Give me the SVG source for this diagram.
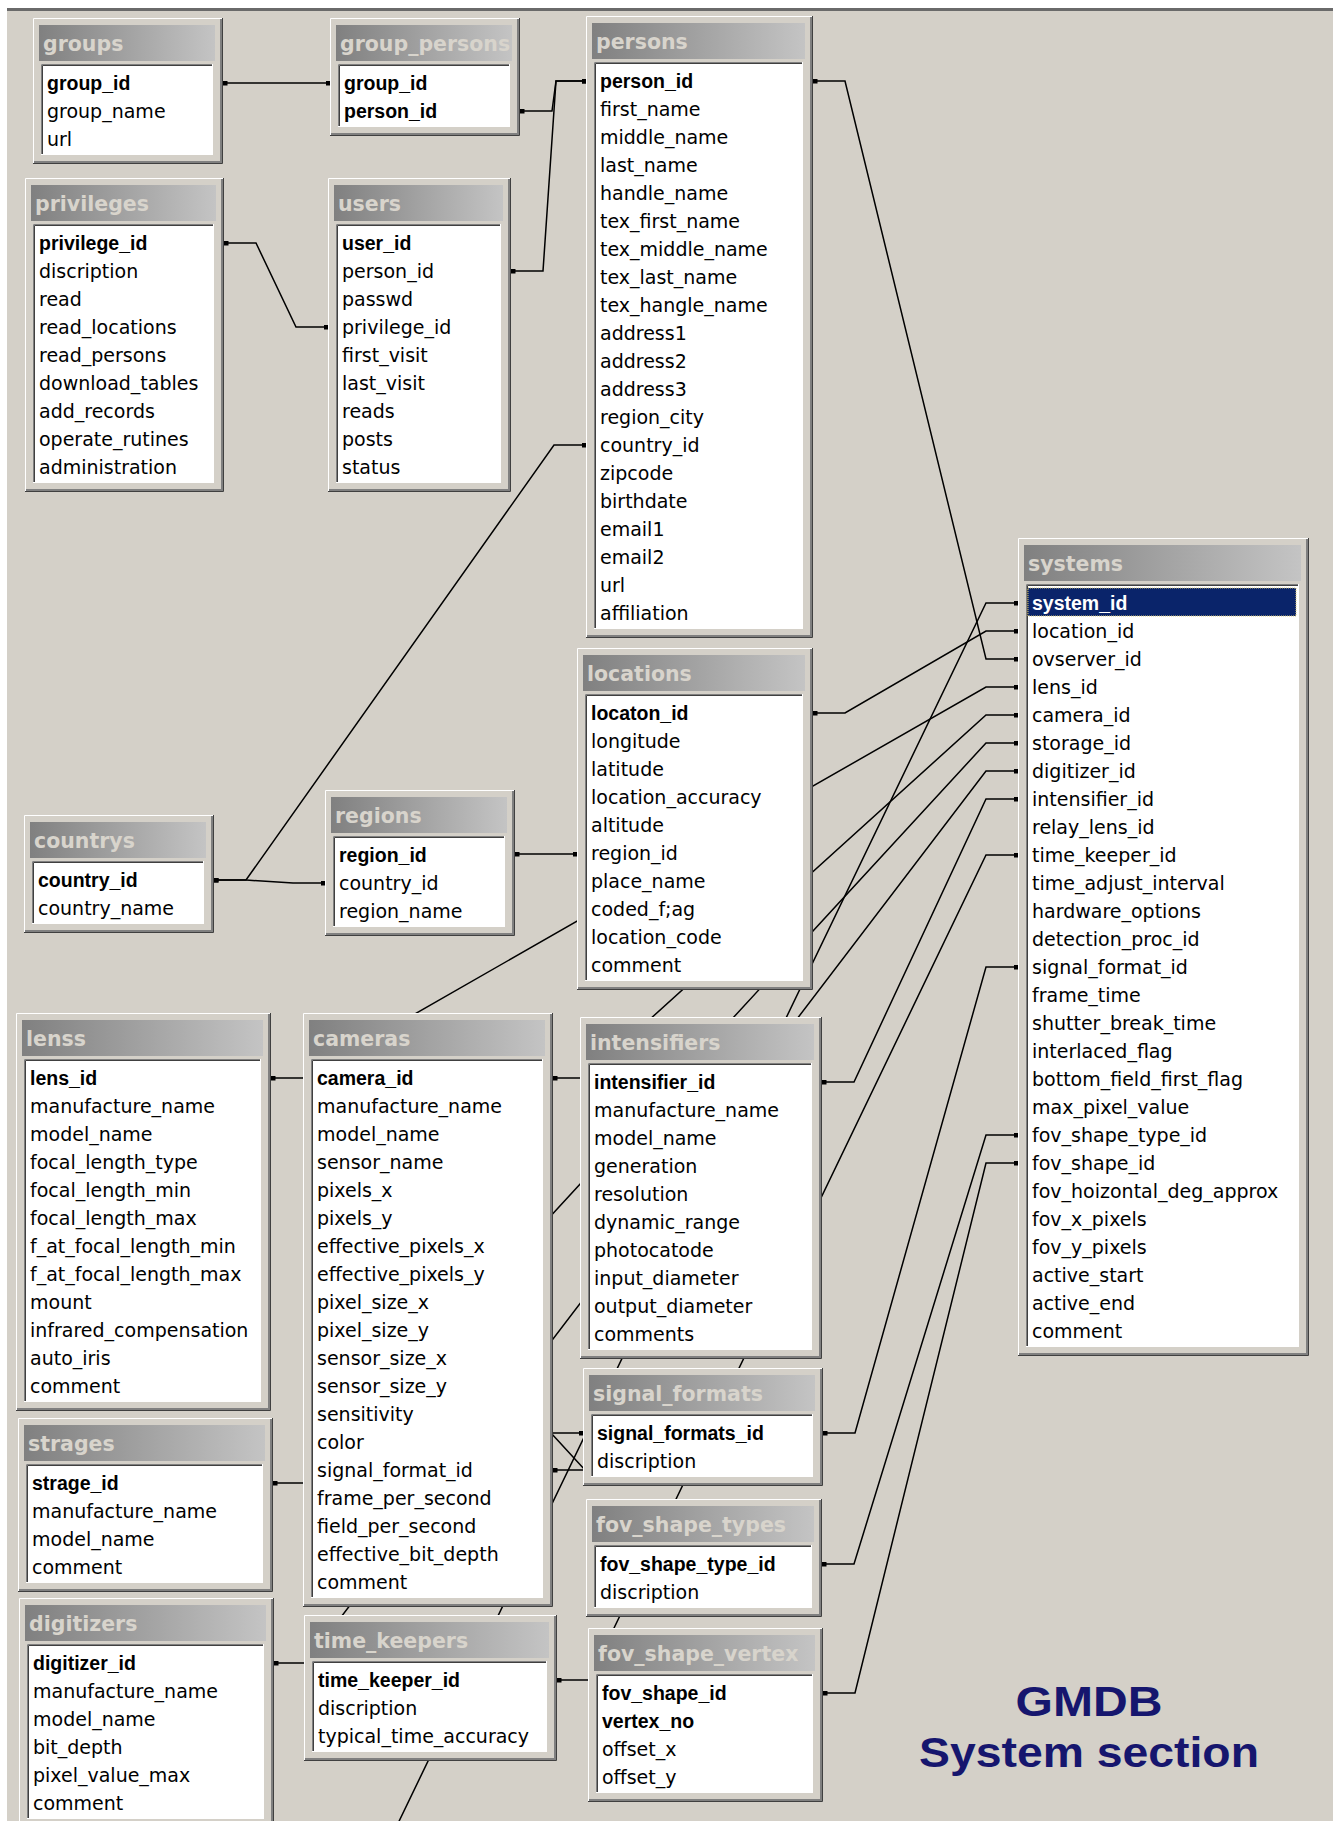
<svg xmlns="http://www.w3.org/2000/svg" width="1333" height="1821" viewBox="0 0 1333 1821">
<defs>
<linearGradient id="tg" x1="0" y1="0" x2="1" y2="0"><stop offset="0" stop-color="#808080"/><stop offset="1" stop-color="#c4c4c4"/></linearGradient>
<marker id="dot" viewBox="0 0 5 5" refX="2.5" refY="2.5" markerWidth="5" markerHeight="5" markerUnits="userSpaceOnUse"><rect width="5" height="5" fill="#000"/></marker>
<style>
.fr{fill:#d4d0c8}
.hi{fill:none;stroke:#fff;stroke-width:1}
.s1{fill:none;stroke:#404040;stroke-width:1}
.s2{fill:none;stroke:#808080;stroke-width:2}
.tb{fill:url(#tg)}
.tt{font-family:"DejaVu Sans",sans-serif;font-weight:bold;font-size:20.5px;fill:#d8d4cc}
.ls{fill:#fff}
.l1{fill:none;stroke:#808080;stroke-width:1}
.l2{fill:none;stroke:#404040;stroke-width:1}
.l3{fill:none;stroke:#ffffff;stroke-width:1}
.f{font-family:"DejaVu Sans",sans-serif;font-size:19px;fill:#000}
.k{font-family:"Liberation Sans",Arial,sans-serif;font-weight:bold;font-size:19.5px;fill:#000}
.conn path{fill:none;stroke:#000;stroke-width:1.5}
</style>
</defs>
<rect width="1333" height="1821" fill="#fff"/>
<rect x="7" y="9" width="1326" height="1812" fill="#d4d0c8"/>
<path d="M7,9.5H1333" stroke="#6a6a6a" stroke-width="3"/>

<g id="connectors" class="conn" marker-start="url(#dot)" marker-end="url(#dot)">
<path d="M225,83H328"/>
<path d="M522,111H552L556,81H584"/>
<path d="M513,271H543L556,81H584"/>
<path d="M226,243H256L296,327H326"/>
<path d="M216,880H246L293,883H323"/>
<path d="M216,880H246L554,445H584"/>
<path d="M517,854H575"/>
<path d="M815,81H845L986,659H1016"/>
<path d="M815,713H845L986,631H1016"/>
<path d="M273,1078H303L986,687H1016"/>
<path d="M555,1078H585L986,715H1016"/>
<path d="M275,1483H305L986,743H1016"/>
<path d="M276,1663H306L986,771H1016"/>
<path d="M824,1082H854L986,799H1016"/>
<path d="M559,1680H589L986,855H1016"/>
<path d="M825,1433H855L986,967H1016"/>
<path d="M824,1564H854L986,1135H1016"/>
<path d="M825,1693H855L986,1163H1016"/>
<path d="M555,1470H585L551,1433H581"/>
<path d="M1016,603H986L390,1840" marker-end="none"/>
</g>

<g id="groups" transform="translate(33,18)">
<rect class="fr" width="190" height="146"/>
<path class="hi" d="M0.5,146V0.5H190"/><path class="s2" d="M1,144H188V1"/><path class="s1" d="M0,145.5H189.5V0"/>
<rect class="tb" x="6" y="7" width="176" height="36"/>
<text class="tt" x="10" y="33">groups</text>
<rect class="ls" x="8" y="46" width="172" height="91"/>
<path class="l1" d="M8.5,137V46.5H180"/><path class="l2" d="M9.5,136V47.5H179"/><path class="l3" d="M8,136.5H179.5V46"/>
<text class="k" x="14" y="72">group_id</text>
<text class="f"><tspan x="14" y="100">group_name</tspan><tspan x="14" y="128">url</tspan></text>
</g>

<g id="group_persons" transform="translate(330,18)">
<rect class="fr" width="190" height="118"/>
<path class="hi" d="M0.5,118V0.5H190"/><path class="s2" d="M1,116H188V1"/><path class="s1" d="M0,117.5H189.5V0"/>
<rect class="tb" x="6" y="7" width="176" height="36"/>
<text class="tt" x="10" y="33">group_persons</text>
<rect class="ls" x="8" y="46" width="172" height="63"/>
<path class="l1" d="M8.5,109V46.5H180"/><path class="l2" d="M9.5,108V47.5H179"/><path class="l3" d="M8,108.5H179.5V46"/>
<text class="k"><tspan x="14" y="72">group_id</tspan><tspan x="14" y="100">person_id</tspan></text>
</g>

<g id="persons" transform="translate(586,16)">
<rect class="fr" width="227" height="622"/>
<path class="hi" d="M0.5,622V0.5H227"/><path class="s2" d="M1,620H225V1"/><path class="s1" d="M0,621.5H226.5V0"/>
<rect class="tb" x="6" y="7" width="213" height="36"/>
<text class="tt" x="10" y="33">persons</text>
<rect class="ls" x="8" y="46" width="209" height="567"/>
<path class="l1" d="M8.5,613V46.5H217"/><path class="l2" d="M9.5,612V47.5H216"/><path class="l3" d="M8,612.5H216.5V46"/>
<text class="k" x="14" y="72">person_id</text>
<text class="f"><tspan x="14" y="100">first_name</tspan><tspan x="14" y="128">middle_name</tspan><tspan x="14" y="156">last_name</tspan><tspan x="14" y="184">handle_name</tspan><tspan x="14" y="212">tex_first_name</tspan><tspan x="14" y="240">tex_middle_name</tspan><tspan x="14" y="268">tex_last_name</tspan><tspan x="14" y="296">tex_hangle_name</tspan><tspan x="14" y="324">address1</tspan><tspan x="14" y="352">address2</tspan><tspan x="14" y="380">address3</tspan><tspan x="14" y="408">region_city</tspan><tspan x="14" y="436">country_id</tspan><tspan x="14" y="464">zipcode</tspan><tspan x="14" y="492">birthdate</tspan><tspan x="14" y="520">email1</tspan><tspan x="14" y="548">email2</tspan><tspan x="14" y="576">url</tspan><tspan x="14" y="604">affiliation</tspan></text>
</g>

<g id="privileges" transform="translate(25,178)">
<rect class="fr" width="199" height="314"/>
<path class="hi" d="M0.5,314V0.5H199"/><path class="s2" d="M1,312H197V1"/><path class="s1" d="M0,313.5H198.5V0"/>
<rect class="tb" x="6" y="7" width="185" height="36"/>
<text class="tt" x="10" y="33">privileges</text>
<rect class="ls" x="8" y="46" width="181" height="259"/>
<path class="l1" d="M8.5,305V46.5H189"/><path class="l2" d="M9.5,304V47.5H188"/><path class="l3" d="M8,304.5H188.5V46"/>
<text class="k" x="14" y="72">privilege_id</text>
<text class="f"><tspan x="14" y="100">discription</tspan><tspan x="14" y="128">read</tspan><tspan x="14" y="156">read_locations</tspan><tspan x="14" y="184">read_persons</tspan><tspan x="14" y="212">download_tables</tspan><tspan x="14" y="240">add_records</tspan><tspan x="14" y="268">operate_rutines</tspan><tspan x="14" y="296">administration</tspan></text>
</g>

<g id="users" transform="translate(328,178)">
<rect class="fr" width="183" height="314"/>
<path class="hi" d="M0.5,314V0.5H183"/><path class="s2" d="M1,312H181V1"/><path class="s1" d="M0,313.5H182.5V0"/>
<rect class="tb" x="6" y="7" width="169" height="36"/>
<text class="tt" x="10" y="33">users</text>
<rect class="ls" x="8" y="46" width="165" height="259"/>
<path class="l1" d="M8.5,305V46.5H173"/><path class="l2" d="M9.5,304V47.5H172"/><path class="l3" d="M8,304.5H172.5V46"/>
<text class="k" x="14" y="72">user_id</text>
<text class="f"><tspan x="14" y="100">person_id</tspan><tspan x="14" y="128">passwd</tspan><tspan x="14" y="156">privilege_id</tspan><tspan x="14" y="184">first_visit</tspan><tspan x="14" y="212">last_visit</tspan><tspan x="14" y="240">reads</tspan><tspan x="14" y="268">posts</tspan><tspan x="14" y="296">status</tspan></text>
</g>

<g id="systems" transform="translate(1018,538)">
<rect class="fr" width="291" height="818"/>
<path class="hi" d="M0.5,818V0.5H291"/><path class="s2" d="M1,816H289V1"/><path class="s1" d="M0,817.5H290.5V0"/>
<rect class="tb" x="6" y="7" width="277" height="36"/>
<text class="tt" x="10" y="33">systems</text>
<rect class="ls" x="8" y="46" width="273" height="763"/>
<path class="l1" d="M8.5,809V46.5H281"/><path class="l2" d="M9.5,808V47.5H280"/><path class="l3" d="M8,808.5H280.5V46"/>
<rect x="10" y="50" width="268" height="28" fill="#0a246a" stroke="#d8c878" stroke-width="1" stroke-dasharray="1,1"/>
<text class="k" x="14" y="72" style="fill:#fff">system_id</text>
<text class="f"><tspan x="14" y="100">location_id</tspan><tspan x="14" y="128">ovserver_id</tspan><tspan x="14" y="156">lens_id</tspan><tspan x="14" y="184">camera_id</tspan><tspan x="14" y="212">storage_id</tspan><tspan x="14" y="240">digitizer_id</tspan><tspan x="14" y="268">intensifier_id</tspan><tspan x="14" y="296">relay_lens_id</tspan><tspan x="14" y="324">time_keeper_id</tspan><tspan x="14" y="352">time_adjust_interval</tspan><tspan x="14" y="380">hardware_options</tspan><tspan x="14" y="408">detection_proc_id</tspan><tspan x="14" y="436">signal_format_id</tspan><tspan x="14" y="464">frame_time</tspan><tspan x="14" y="492">shutter_break_time</tspan><tspan x="14" y="520">interlaced_flag</tspan><tspan x="14" y="548">bottom_field_first_flag</tspan><tspan x="14" y="576">max_pixel_value</tspan><tspan x="14" y="604">fov_shape_type_id</tspan><tspan x="14" y="632">fov_shape_id</tspan><tspan x="14" y="660">fov_hoizontal_deg_approx</tspan><tspan x="14" y="688">fov_x_pixels</tspan><tspan x="14" y="716">fov_y_pixels</tspan><tspan x="14" y="744">active_start</tspan><tspan x="14" y="772">active_end</tspan><tspan x="14" y="800">comment</tspan></text>
</g>

<g id="locations" transform="translate(577,648)">
<rect class="fr" width="236" height="342"/>
<path class="hi" d="M0.5,342V0.5H236"/><path class="s2" d="M1,340H234V1"/><path class="s1" d="M0,341.5H235.5V0"/>
<rect class="tb" x="6" y="7" width="222" height="36"/>
<text class="tt" x="10" y="33">locations</text>
<rect class="ls" x="8" y="46" width="218" height="287"/>
<path class="l1" d="M8.5,333V46.5H226"/><path class="l2" d="M9.5,332V47.5H225"/><path class="l3" d="M8,332.5H225.5V46"/>
<text class="k" x="14" y="72">locaton_id</text>
<text class="f"><tspan x="14" y="100">longitude</tspan><tspan x="14" y="128">latitude</tspan><tspan x="14" y="156">location_accuracy</tspan><tspan x="14" y="184">altitude</tspan><tspan x="14" y="212">region_id</tspan><tspan x="14" y="240">place_name</tspan><tspan x="14" y="268">coded_f;ag</tspan><tspan x="14" y="296">location_code</tspan><tspan x="14" y="324">comment</tspan></text>
</g>

<g id="countrys" transform="translate(24,815)">
<rect class="fr" width="190" height="118"/>
<path class="hi" d="M0.5,118V0.5H190"/><path class="s2" d="M1,116H188V1"/><path class="s1" d="M0,117.5H189.5V0"/>
<rect class="tb" x="6" y="7" width="176" height="36"/>
<text class="tt" x="10" y="33">countrys</text>
<rect class="ls" x="8" y="46" width="172" height="63"/>
<path class="l1" d="M8.5,109V46.5H180"/><path class="l2" d="M9.5,108V47.5H179"/><path class="l3" d="M8,108.5H179.5V46"/>
<text class="k" x="14" y="72">country_id</text>
<text class="f" x="14" y="100">country_name</text>
</g>

<g id="regions" transform="translate(325,790)">
<rect class="fr" width="190" height="146"/>
<path class="hi" d="M0.5,146V0.5H190"/><path class="s2" d="M1,144H188V1"/><path class="s1" d="M0,145.5H189.5V0"/>
<rect class="tb" x="6" y="7" width="176" height="36"/>
<text class="tt" x="10" y="33">regions</text>
<rect class="ls" x="8" y="46" width="172" height="91"/>
<path class="l1" d="M8.5,137V46.5H180"/><path class="l2" d="M9.5,136V47.5H179"/><path class="l3" d="M8,136.5H179.5V46"/>
<text class="k" x="14" y="72">region_id</text>
<text class="f"><tspan x="14" y="100">country_id</tspan><tspan x="14" y="128">region_name</tspan></text>
</g>

<g id="lenss" transform="translate(16,1013)">
<rect class="fr" width="255" height="398"/>
<path class="hi" d="M0.5,398V0.5H255"/><path class="s2" d="M1,396H253V1"/><path class="s1" d="M0,397.5H254.5V0"/>
<rect class="tb" x="6" y="7" width="241" height="36"/>
<text class="tt" x="10" y="33">lenss</text>
<rect class="ls" x="8" y="46" width="237" height="343"/>
<path class="l1" d="M8.5,389V46.5H245"/><path class="l2" d="M9.5,388V47.5H244"/><path class="l3" d="M8,388.5H244.5V46"/>
<text class="k" x="14" y="72">lens_id</text>
<text class="f"><tspan x="14" y="100">manufacture_name</tspan><tspan x="14" y="128">model_name</tspan><tspan x="14" y="156">focal_length_type</tspan><tspan x="14" y="184">focal_length_min</tspan><tspan x="14" y="212">focal_length_max</tspan><tspan x="14" y="240">f_at_focal_length_min</tspan><tspan x="14" y="268">f_at_focal_length_max</tspan><tspan x="14" y="296">mount</tspan><tspan x="14" y="324">infrared_compensation</tspan><tspan x="14" y="352">auto_iris</tspan><tspan x="14" y="380">comment</tspan></text>
</g>

<g id="cameras" transform="translate(303,1013)">
<rect class="fr" width="250" height="594"/>
<path class="hi" d="M0.5,594V0.5H250"/><path class="s2" d="M1,592H248V1"/><path class="s1" d="M0,593.5H249.5V0"/>
<rect class="tb" x="6" y="7" width="236" height="36"/>
<text class="tt" x="10" y="33">cameras</text>
<rect class="ls" x="8" y="46" width="232" height="539"/>
<path class="l1" d="M8.5,585V46.5H240"/><path class="l2" d="M9.5,584V47.5H239"/><path class="l3" d="M8,584.5H239.5V46"/>
<text class="k" x="14" y="72">camera_id</text>
<text class="f"><tspan x="14" y="100">manufacture_name</tspan><tspan x="14" y="128">model_name</tspan><tspan x="14" y="156">sensor_name</tspan><tspan x="14" y="184">pixels_x</tspan><tspan x="14" y="212">pixels_y</tspan><tspan x="14" y="240">effective_pixels_x</tspan><tspan x="14" y="268">effective_pixels_y</tspan><tspan x="14" y="296">pixel_size_x</tspan><tspan x="14" y="324">pixel_size_y</tspan><tspan x="14" y="352">sensor_size_x</tspan><tspan x="14" y="380">sensor_size_y</tspan><tspan x="14" y="408">sensitivity</tspan><tspan x="14" y="436">color</tspan><tspan x="14" y="464">signal_format_id</tspan><tspan x="14" y="492">frame_per_second</tspan><tspan x="14" y="520">field_per_second</tspan><tspan x="14" y="548">effective_bit_depth</tspan><tspan x="14" y="576">comment</tspan></text>
</g>

<g id="intensifiers" transform="translate(580,1017)">
<rect class="fr" width="242" height="342"/>
<path class="hi" d="M0.5,342V0.5H242"/><path class="s2" d="M1,340H240V1"/><path class="s1" d="M0,341.5H241.5V0"/>
<rect class="tb" x="6" y="7" width="228" height="36"/>
<text class="tt" x="10" y="33">intensifiers</text>
<rect class="ls" x="8" y="46" width="224" height="287"/>
<path class="l1" d="M8.5,333V46.5H232"/><path class="l2" d="M9.5,332V47.5H231"/><path class="l3" d="M8,332.5H231.5V46"/>
<text class="k" x="14" y="72">intensifier_id</text>
<text class="f"><tspan x="14" y="100">manufacture_name</tspan><tspan x="14" y="128">model_name</tspan><tspan x="14" y="156">generation</tspan><tspan x="14" y="184">resolution</tspan><tspan x="14" y="212">dynamic_range</tspan><tspan x="14" y="240">photocatode</tspan><tspan x="14" y="268">input_diameter</tspan><tspan x="14" y="296">output_diameter</tspan><tspan x="14" y="324">comments</tspan></text>
</g>

<g id="signal_formats" transform="translate(583,1368)">
<rect class="fr" width="240" height="118"/>
<path class="hi" d="M0.5,118V0.5H240"/><path class="s2" d="M1,116H238V1"/><path class="s1" d="M0,117.5H239.5V0"/>
<rect class="tb" x="6" y="7" width="226" height="36"/>
<text class="tt" x="10" y="33">signal_formats</text>
<rect class="ls" x="8" y="46" width="222" height="63"/>
<path class="l1" d="M8.5,109V46.5H230"/><path class="l2" d="M9.5,108V47.5H229"/><path class="l3" d="M8,108.5H229.5V46"/>
<text class="k" x="14" y="72">signal_formats_id</text>
<text class="f" x="14" y="100">discription</text>
</g>

<g id="fov_shape_types" transform="translate(586,1499)">
<rect class="fr" width="236" height="118"/>
<path class="hi" d="M0.5,118V0.5H236"/><path class="s2" d="M1,116H234V1"/><path class="s1" d="M0,117.5H235.5V0"/>
<rect class="tb" x="6" y="7" width="222" height="36"/>
<text class="tt" x="10" y="33">fov_shape_types</text>
<rect class="ls" x="8" y="46" width="218" height="63"/>
<path class="l1" d="M8.5,109V46.5H226"/><path class="l2" d="M9.5,108V47.5H225"/><path class="l3" d="M8,108.5H225.5V46"/>
<text class="k" x="14" y="72">fov_shape_type_id</text>
<text class="f" x="14" y="100">discription</text>
</g>

<g id="fov_shape_vertex" transform="translate(588,1628)">
<rect class="fr" width="235" height="174"/>
<path class="hi" d="M0.5,174V0.5H235"/><path class="s2" d="M1,172H233V1"/><path class="s1" d="M0,173.5H234.5V0"/>
<rect class="tb" x="6" y="7" width="221" height="36"/>
<text class="tt" x="10" y="33">fov_shape_vertex</text>
<rect class="ls" x="8" y="46" width="217" height="119"/>
<path class="l1" d="M8.5,165V46.5H225"/><path class="l2" d="M9.5,164V47.5H224"/><path class="l3" d="M8,164.5H224.5V46"/>
<text class="k"><tspan x="14" y="72">fov_shape_id</tspan><tspan x="14" y="100">vertex_no</tspan></text>
<text class="f"><tspan x="14" y="128">offset_x</tspan><tspan x="14" y="156">offset_y</tspan></text>
</g>

<g id="strages" transform="translate(18,1418)">
<rect class="fr" width="255" height="174"/>
<path class="hi" d="M0.5,174V0.5H255"/><path class="s2" d="M1,172H253V1"/><path class="s1" d="M0,173.5H254.5V0"/>
<rect class="tb" x="6" y="7" width="241" height="36"/>
<text class="tt" x="10" y="33">strages</text>
<rect class="ls" x="8" y="46" width="237" height="119"/>
<path class="l1" d="M8.5,165V46.5H245"/><path class="l2" d="M9.5,164V47.5H244"/><path class="l3" d="M8,164.5H244.5V46"/>
<text class="k" x="14" y="72">strage_id</text>
<text class="f"><tspan x="14" y="100">manufacture_name</tspan><tspan x="14" y="128">model_name</tspan><tspan x="14" y="156">comment</tspan></text>
</g>

<g id="digitizers" transform="translate(19,1598)">
<rect class="fr" width="255" height="230"/>
<path class="hi" d="M0.5,230V0.5H255"/><path class="s2" d="M1,228H253V1"/><path class="s1" d="M0,229.5H254.5V0"/>
<rect class="tb" x="6" y="7" width="241" height="36"/>
<text class="tt" x="10" y="33">digitizers</text>
<rect class="ls" x="8" y="46" width="237" height="175"/>
<path class="l1" d="M8.5,221V46.5H245"/><path class="l2" d="M9.5,220V47.5H244"/><path class="l3" d="M8,220.5H244.5V46"/>
<text class="k" x="14" y="72">digitizer_id</text>
<text class="f"><tspan x="14" y="100">manufacture_name</tspan><tspan x="14" y="128">model_name</tspan><tspan x="14" y="156">bit_depth</tspan><tspan x="14" y="184">pixel_value_max</tspan><tspan x="14" y="212">comment</tspan></text>
</g>

<g id="time_keepers" transform="translate(304,1615)">
<rect class="fr" width="253" height="146"/>
<path class="hi" d="M0.5,146V0.5H253"/><path class="s2" d="M1,144H251V1"/><path class="s1" d="M0,145.5H252.5V0"/>
<rect class="tb" x="6" y="7" width="239" height="36"/>
<text class="tt" x="10" y="33">time_keepers</text>
<rect class="ls" x="8" y="46" width="235" height="91"/>
<path class="l1" d="M8.5,137V46.5H243"/><path class="l2" d="M9.5,136V47.5H242"/><path class="l3" d="M8,136.5H242.5V46"/>
<text class="k" x="14" y="72">time_keeper_id</text>
<text class="f"><tspan x="14" y="100">discription</tspan><tspan x="14" y="128">typical_time_accuracy</tspan></text>
</g>

<g id="caption" font-family="'Liberation Sans',Arial,sans-serif" font-weight="bold" font-size="42" fill="#16166e" text-anchor="middle">
<text x="1089" y="1716" textLength="147" lengthAdjust="spacingAndGlyphs">GMDB</text>
<text x="1089" y="1767" textLength="340" lengthAdjust="spacingAndGlyphs">System section</text>
</g>
</svg>
